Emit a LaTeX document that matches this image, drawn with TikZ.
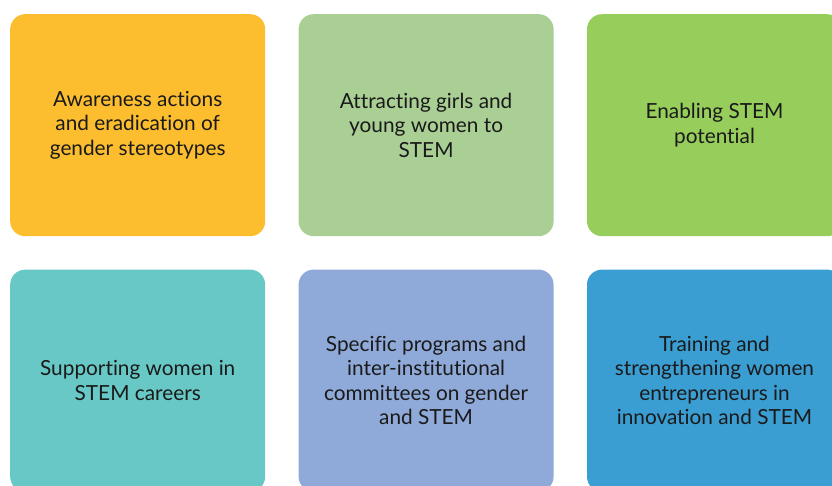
\documentclass[tikz,border=0pt]{standalone}
\usepackage{fontspec}
\setmainfont[Ligatures=NoCommon]{Lato}
\usepackage{xcolor}
\usetikzlibrary{positioning}
\definecolor{cYellow}{HTML}{FCBE2F}
\definecolor{cSage}{HTML}{AACF94}
\definecolor{cGreen}{HTML}{96CD5B}
\definecolor{cTeal}{HTML}{68C8C6}
\definecolor{cLavender}{HTML}{8FAAD9}
\definecolor{cBlue}{HTML}{3B9ED2}
\definecolor{cText}{HTML}{1A1A1A}

\begin{document}
\begin{tikzpicture}[x=1pt,y=-1pt,node distance=33pt,
  every node/.style={font=\fontsize{20.8}{24.5}\selectfont,text=cText},
  tile/.style={rounded corners=15pt,align=center,minimum width=255pt,minimum height=222pt,inner sep=0pt}]
\useasboundingbox (0,0) rectangle (832,485);
\clip (0,0) rectangle (832,485);
\node[tile,fill=cYellow,anchor=north west] (aware) at (10,14) {Awareness actions\\and eradication of\\gender stereotypes};
\node[tile,fill=cSage,right=of aware] (attract) {Attracting girls and\\young women to\\STEM};
\node[tile,fill=cGreen,right=of attract] (enable) {Enabling STEM\\potential};
\node[tile,fill=cTeal,below=of aware] (support) {Supporting women in\\STEM careers};
\node[tile,fill=cLavender,below=of attract] (programs) {Specific programs and\\inter-institutional\\committees on gender\\and STEM};
\node[tile,fill=cBlue,below=of enable] (training) {Training and\\strengthening women\\entrepreneurs in\\innovation and STEM};
\end{tikzpicture}
\end{document}
